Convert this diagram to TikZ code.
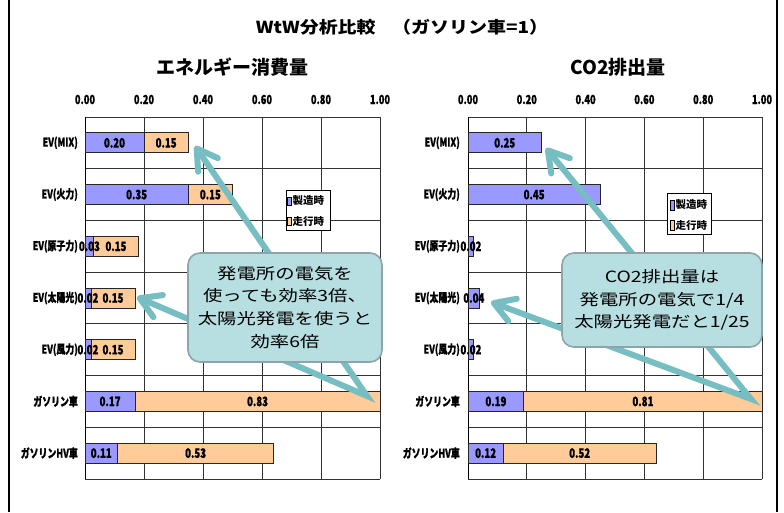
\documentclass[tikz,border=0pt]{standalone}
\usepackage{fontspec}
\usetikzlibrary{arrows.meta}

\newfontfamily\jpfont{Noto Sans CJK JP}
\newfontfamily\jptitle{Noto Sans CJK JP}[FakeStretch=1.15]
\newfontfamily\jpwide{Noto Sans CJK JP}[FakeStretch=1.25]
\newfontfamily\jpnarrow{Noto Sans CJK JP}[FakeStretch=0.74,FakeBold=0.8]

\definecolor{barblue}{RGB}{153,153,255}
\definecolor{barorange}{RGB}{255,204,153}
\definecolor{notefill}{RGB}{183,222,225}
\definecolor{notedraw}{RGB}{140,165,168}
\definecolor{pointerteal}{RGB}{118,190,194}

\tikzset{
  grid line/.style={black!80, line width=0.8pt},
  bar/.style={draw=black!85, line width=0.8pt},
  bar label/.style={font=\jpnarrow\bfseries\fontsize{13}{15}\selectfont, inner sep=0pt},
  cat label/.style={font=\jpnarrow\bfseries\fontsize{12}{14}\selectfont, anchor=east, inner sep=0pt},
  tick label/.style={font=\jpnarrow\bfseries\fontsize{12.5}{14}\selectfont, inner sep=0pt},
  key label/.style={font=\jpfont\bfseries\fontsize{10.5}{12}\selectfont, anchor=west, inner sep=0pt},
  chart title/.style={font=\jpfont\bfseries\fontsize{19}{22}\selectfont, inner sep=0pt},
  note/.style={rounded corners=12pt, fill=notefill, draw=notedraw, line width=1.6pt,
    align=center, font=\jpwide\fontsize{15.5}{22.8}\selectfont},
  pointer/.style={pointerteal, line width=6pt, line join=miter,
    {Straight Barb[length=20pt,width=24pt,round]}-{Straight Barb[length=20pt,width=24pt,round]}}
}

\begin{document}
\begin{tikzpicture}[x=1pt,y=-1pt]
\useasboundingbox (0,0) rectangle (784,512);
\fill[white] (0,0) rectangle (784,512);
\draw[line width=2pt] (8.5,0) -- (8.5,512);
\draw[line width=2pt] (777,0) -- (777,512);

\node[font=\jptitle\bfseries\fontsize{16.5}{20}\selectfont, inner sep=0pt] (title) at (402,27)
  {WtW分析比較\hspace{1em}（ガソリン車=1）};
\node[chart title] (etitle) at (232,67) {エネルギー消費量};
\node[chart title] (ctitle) at (618,67) {CO2排出量};

% energy chart
\begin{scope}[shift={(85,0)}]
  \foreach \i/\t in {0/0.00,1/0.20,2/0.40,3/0.60,4/0.80,5/1.00}{
    \draw[grid line] (\i*59,117) -- (\i*59,479);
    \node[tick label] (etick\i) at (\i*59,99.5) {\t};
  }
  \foreach \j in {0,...,7}
    \draw[grid line] (0,117+\j*51.714) -- (295,117+\j*51.714);
  \draw[black, line width=1pt] (0,117) -- (0,479);
  \foreach \j/\a/\c in {0/0.20/EV(MIX),1/0.35/EV(火力),2/0.03/EV(原子力),3/0.02/EV(太陽光),
      4/0.02/EV(風力),5/0.17/ガソリン車,6/0.11/ガソリンHV車}{
    \draw[bar, fill=barblue] (0,132.86+\j*51.714) rectangle (\a*295,152.86+\j*51.714);
    \node[cat label] (ecat\j) at (-7,142.86+\j*51.714) {\c};
  }
  \foreach \j/\a/\b in {0/0.20/0.15,1/0.35/0.15,2/0.03/0.15,3/0.02/0.15,
      4/0.02/0.15,5/0.17/0.83,6/0.11/0.53}{
    \draw[bar, fill=barorange] (\a*295,132.86+\j*51.714) rectangle ({(\a+\b)*295},152.86+\j*51.714);
    \node[bar label] (ea\j) at (\a*147.5,142.86+\j*51.714) {\a};
    \node[bar label] (eb\j) at ({(\a+\b/2)*295},142.86+\j*51.714) {\b};
  }
\end{scope}
\draw[line width=0.6pt, fill=white] (286,190) rectangle (330,230);
\draw[line width=0.5pt, fill=barblue] (287.5,197) rectangle (291.5,205);
\draw[line width=0.5pt, fill=barorange] (287.5,217) rectangle (291.5,225);
\node[key label] (ekeyA) at (292.5,201) {製造時};
\node[key label] (ekeyB) at (292.5,221) {走行時};

% co2 chart
\begin{scope}[shift={(468,0)}]
  \foreach \i/\t in {0/0.00,1/0.20,2/0.40,3/0.60,4/0.80,5/1.00}{
    \draw[grid line] (\i*58.8,117) -- (\i*58.8,479);
    \node[tick label] (ctick\i) at (\i*58.8,99.5) {\t};
  }
  \foreach \j in {0,...,7}
    \draw[grid line] (0,117+\j*51.714) -- (294,117+\j*51.714);
  \draw[black, line width=1pt] (0,117) -- (0,479);
  \foreach \j/\a/\c in {0/0.25/EV(MIX),1/0.45/EV(火力),2/0.02/EV(原子力),3/0.04/EV(太陽光),
      4/0.02/EV(風力),5/0.19/ガソリン車,6/0.12/ガソリンHV車}{
    \draw[bar, fill=barblue] (0,132.86+\j*51.714) rectangle (\a*294,152.86+\j*51.714);
    \node[bar label] (ca\j) at (\a*147,142.86+\j*51.714) {\a};
    \node[cat label] (ccat\j) at (-8,142.86+\j*51.714) {\c};
  }
  \foreach \j/\a/\b in {5/0.19/0.81,6/0.12/0.52}{
    \draw[bar, fill=barorange] (\a*294,132.86+\j*51.714) rectangle ({(\a+\b)*294},152.86+\j*51.714);
    \node[bar label] (cb\j) at ({(\a+\b/2)*294},142.86+\j*51.714) {\b};
  }
\end{scope}
\draw[line width=0.6pt, fill=white] (667,193) rectangle (711,234);
\draw[line width=0.5pt, fill=barblue] (670,200) rectangle (674,210);
\draw[line width=0.5pt, fill=barorange] (670,220) rectangle (674,230);
\node[key label] (ckeyA) at (675.5,205) {製造時};
\node[key label] (ckeyB) at (675.5,225) {走行時};

% pointers and notes
\coordinate (ecorner) at (367,396);
\coordinate (etipA) at (195,146);
\coordinate (etipB) at (137,297);
\draw[pointer] (etipA) -- (ecorner) -- (etipB);
\coordinate (ccorner) at (751,399);
\coordinate (ctipA) at (546,148);
\coordinate (ctipB) at (491,302);
\draw[pointer] (ctipA) -- (ccorner) -- (ctipB);

\node[note, minimum width=194pt, minimum height=109pt] (enote) at (285,307.5)
  {発電所の電気を\\使っても効率3倍、\\太陽光発電を使うと\\効率6倍};
\node[note, minimum width=200pt, minimum height=94pt] (cnote) at (662,300)
  {CO2排出量は\\発電所の電気で1/4\\太陽光発電だと1/25};
\end{tikzpicture}
\end{document}
